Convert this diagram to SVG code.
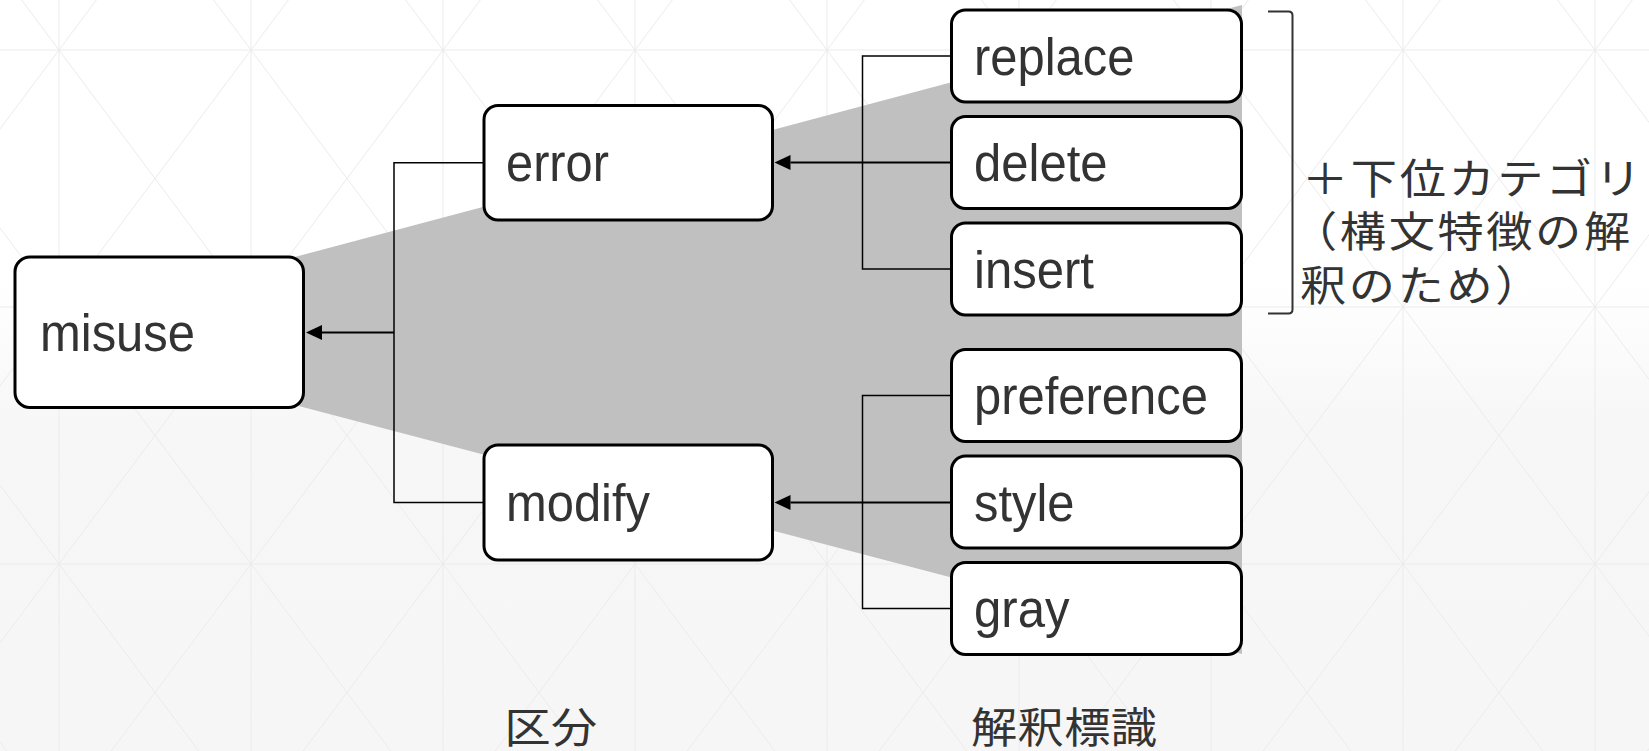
<svg xmlns="http://www.w3.org/2000/svg" width="1649" height="751" viewBox="0 0 1649 751">
  <defs>
    <linearGradient id="bgFade" x1="0" y1="0" x2="0" y2="1">
      <stop offset="0" stop-color="#ffffff"/>
      <stop offset="0.38" stop-color="#ffffff"/>
      <stop offset="0.56" stop-color="#f7f7f7"/>
      <stop offset="1" stop-color="#f6f6f6"/>
    </linearGradient>
    <marker id="arrowHead" markerUnits="userSpaceOnUse" markerWidth="16" markerHeight="15" refX="0" refY="7.5" orient="auto" overflow="visible">
      <path d="M0,0 L16,7.5 L0,15 z" fill="#000"/>
    </marker>
    <style>
      .grid { fill: none; stroke: #ebebeb; stroke-width: 1; }
      .fan { fill: #c0c0c0; }
      .box { fill: #ffffff; stroke: #000000; stroke-width: 3; }
      .label { font-family: "Liberation Sans", Arial, Helvetica, sans-serif; font-size: 51px; fill: #333333; }
      .jp { font-family: "Noto Sans CJK JP", "Noto Sans CJK SC", sans-serif; font-size: 42px; fill: #333333; }
      .note { letter-spacing: 2.4px; }
      .caption { letter-spacing: 0.4px; }
      .elbow { fill: none; stroke: #000; stroke-width: 1.5; }
      .arrow { fill: none; stroke: #000; stroke-width: 2; marker-end: url(#arrowHead); }
      .bracket { fill: none; stroke: #333333; stroke-width: 2; }
    </style>
  </defs>

  <!-- backdrop: soft fade plus a triangular lattice -->
  <rect x="0" y="0" width="1649" height="751" fill="url(#bgFade)"/>
  <path class="grid" d="
    M59,0 V751 M251,0 V751 M443,0 V751 M635,0 V751 M827,0 V751 M1019,0 V751 M1211,0 V751 M1403,0 V751 M1595,0 V751
    M0,50 H1649 M0,307 H1649 M0,564 H1649
    M-554.35,0 L6.7,751 M-362.35,0 L198.7,751 M-170.35,0 L390.7,751 M21.65,0 L582.7,751
    M213.65,0 L774.7,751 M405.65,0 L966.7,751 M597.65,0 L1158.7,751 M789.65,0 L1350.7,751
    M981.65,0 L1542.7,751 M1173.65,0 L1734.7,751 M1365.65,0 L1926.7,751 M1557.65,0 L2118.7,751
    M96.35,0 L-464.7,751 M288.35,0 L-272.7,751 M480.35,0 L-80.7,751 M672.35,0 L111.3,751
    M864.35,0 L303.3,751 M1056.35,0 L495.3,751 M1248.35,0 L687.3,751 M1440.35,0 L879.3,751
    M1632.35,0 L1071.3,751 M1824.35,0 L1263.3,751 M2016.35,0 L1455.3,751 M2208.35,0 L1647.3,751"/>

  <!-- grey fan spreading from misuse to the label column -->
  <polygon class="fan" points="291,258 1242,5 1242,654 291,404"/>

  <!-- connectors -->
  <g id="connectors">
    <path class="elbow" d="M484,162.7 H394 V502.5 H484"/>
    <path class="arrow" d="M394,332.5 H322"/>
    <path class="elbow" d="M951.5,56 H862.5 V269 H951.5"/>
    <path class="arrow" d="M951.5,162.5 H790.5"/>
    <path class="elbow" d="M951.5,395.5 H862.5 V608.5 H951.5"/>
    <path class="arrow" d="M951.5,502.5 H790.5"/>
  </g>

  <!-- nodes -->
  <g id="misuse">
    <rect class="box" x="15" y="257" width="288.5" height="150.5" rx="15"/>
    <text class="label" x="40" y="351" textLength="155" lengthAdjust="spacingAndGlyphs">misuse</text>
  </g>
  <g id="error">
    <rect class="box" x="484" y="105.5" width="288.5" height="114.5" rx="14"/>
    <text class="label" x="506" y="181" textLength="103" lengthAdjust="spacingAndGlyphs">error</text>
  </g>
  <g id="modify">
    <rect class="box" x="484" y="445" width="288.5" height="115" rx="14"/>
    <text class="label" x="506" y="521" textLength="144" lengthAdjust="spacingAndGlyphs">modify</text>
  </g>
  <g id="replace">
    <rect class="box" x="951.5" y="10" width="290" height="92" rx="14"/>
    <text class="label" x="974" y="74.5" textLength="160.5" lengthAdjust="spacingAndGlyphs">replace</text>
  </g>
  <g id="delete">
    <rect class="box" x="951.5" y="116.5" width="290" height="92" rx="14"/>
    <text class="label" x="974" y="181" textLength="133.5" lengthAdjust="spacingAndGlyphs">delete</text>
  </g>
  <g id="insert">
    <rect class="box" x="951.5" y="223" width="290" height="92" rx="14"/>
    <text class="label" x="974" y="287.5" textLength="120" lengthAdjust="spacingAndGlyphs">insert</text>
  </g>
  <g id="preference">
    <rect class="box" x="951.5" y="349.5" width="290" height="92" rx="14"/>
    <text class="label" x="974" y="414" textLength="234" lengthAdjust="spacingAndGlyphs">preference</text>
  </g>
  <g id="style">
    <rect class="box" x="951.5" y="456" width="290" height="92" rx="14"/>
    <text class="label" x="974" y="520.5" textLength="100.5" lengthAdjust="spacingAndGlyphs">style</text>
  </g>
  <g id="gray">
    <rect class="box" x="951.5" y="562.5" width="290" height="92" rx="14"/>
    <text class="label" x="974" y="627" textLength="95.5" lengthAdjust="spacingAndGlyphs">gray</text>
  </g>

  <!-- bracket note beside the error-type labels -->
  <g id="subcategory-note">
    <path class="bracket" d="M1268,11.5 H1288.5 Q1292.5,11.5 1292.5,15.5 V309.5 Q1292.5,313.5 1288.5,313.5 H1268"/>
    <text class="jp note" transform="translate(1302,193.5) scale(1.1,1)">＋下位カテゴリ</text>
    <text class="jp note" transform="translate(1291,247) scale(1.1,1)">（構文特徴の解</text>
    <text class="jp note" transform="translate(1300,300.5) scale(1.1,1)">釈のため）</text>
  </g>

  <!-- column captions -->
  <g id="caption-category">
    <text class="jp caption" transform="translate(504.5,743) scale(1.1,1)">区分</text>
  </g>
  <g id="caption-labels">
    <text class="jp caption" transform="translate(971,743) scale(1.1,1)">解釈標識</text>
  </g>
</svg>
